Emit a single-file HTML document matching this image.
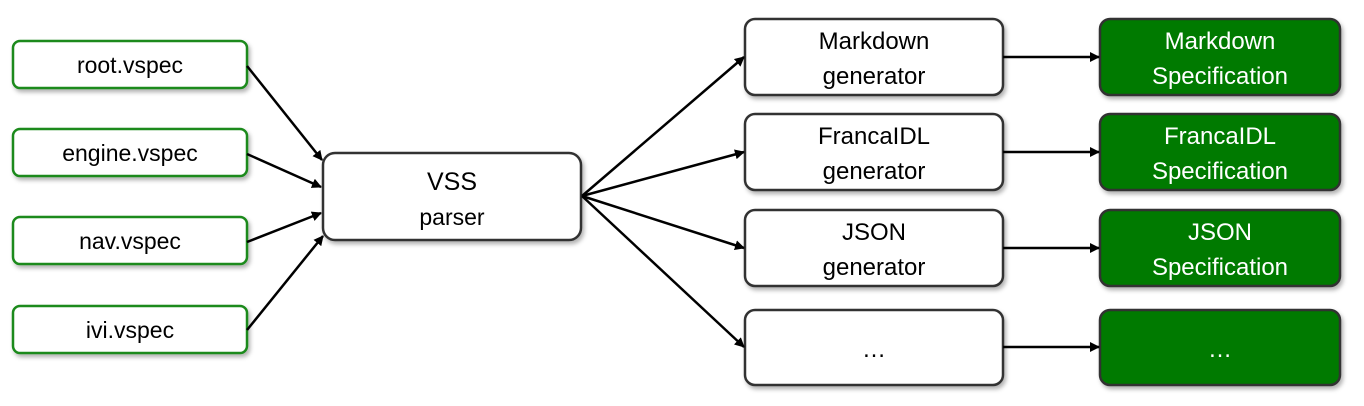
<!DOCTYPE html>
<html><head><meta charset="utf-8"><style>
body{margin:0;background:#fff;}
svg{display:block;font-family:"Liberation Sans",Arial,sans-serif;}
</style></head><body>
<svg width="1364" height="406" viewBox="0 0 1364 406" xmlns="http://www.w3.org/2000/svg">
<defs>
<marker id="a" markerWidth="10" markerHeight="10" refX="9" refY="5" orient="auto" markerUnits="userSpaceOnUse">
<path d="M0,0 L10,5 L0,10 z" fill="#000"/></marker>
<filter id="s" x="-10%" y="-10%" width="130%" height="140%"><feDropShadow dx="2" dy="3" stdDeviation="2" flood-color="#000" flood-opacity="0.3"/></filter>
</defs>
<g stroke-width="2.5" fill="#fff" filter="url(#s)">
<rect x="13" y="41" width="234" height="47" rx="7" stroke="#1a8a1a"/>
<rect x="13" y="129" width="234" height="47" rx="7" stroke="#1a8a1a"/>
<rect x="13" y="217" width="234" height="47" rx="7" stroke="#1a8a1a"/>
<rect x="13" y="306" width="234" height="47" rx="7" stroke="#1a8a1a"/>
<rect x="323" y="153" width="258" height="87" rx="12" stroke="#333"/>
<rect x="745" y="19" width="258" height="76" rx="10" stroke="#333"/>
<rect x="745" y="114" width="258" height="76" rx="10" stroke="#333"/>
<rect x="745" y="210" width="258" height="76" rx="10" stroke="#333"/>
<rect x="745" y="310" width="258" height="75" rx="10" stroke="#333"/>
<rect x="1100" y="19" width="240" height="76" rx="10" stroke="#333" fill="#007a00"/>
<rect x="1100" y="114" width="240" height="76" rx="10" stroke="#333" fill="#007a00"/>
<rect x="1100" y="210" width="240" height="76" rx="10" stroke="#333" fill="#007a00"/>
<rect x="1100" y="310" width="240" height="75" rx="10" stroke="#333" fill="#007a00"/>
</g>
<g stroke="#000" stroke-width="2.5" marker-end="url(#a)">
<line x1="247" y1="66" x2="322" y2="160"/>
<line x1="247" y1="154" x2="321" y2="187"/>
<line x1="247" y1="242" x2="321" y2="213"/>
<line x1="247" y1="330" x2="323" y2="236"/>
<line x1="582" y1="196" x2="744" y2="57"/>
<line x1="582" y1="196" x2="744" y2="152"/>
<line x1="582" y1="196" x2="744" y2="248"/>
<line x1="582" y1="196" x2="744" y2="347"/>
<line x1="1003" y1="57" x2="1099" y2="57"/>
<line x1="1003" y1="152" x2="1099" y2="152"/>
<line x1="1003" y1="248" x2="1099" y2="248"/>
<line x1="1003" y1="347" x2="1099" y2="347"/>
</g>
<g font-size="23" text-anchor="middle" fill="#000">
<text x="130" y="73">root.vspec</text>
<text x="130" y="161">engine.vspec</text>
<text x="130" y="249">nav.vspec</text>
<text x="130" y="338">ivi.vspec</text>
<text x="452" y="190" font-size="25">VSS</text>
<text x="452" y="225" font-size="23">parser</text>
<text x="874" y="49" font-size="24">Markdown</text>
<text x="874" y="84" font-size="24">generator</text>
<text x="874" y="144" font-size="24">FrancaIDL</text>
<text x="874" y="179" font-size="24">generator</text>
<text x="874" y="240" font-size="24">JSON</text>
<text x="874" y="275" font-size="24">generator</text>
<text x="874" y="357" font-size="24">…</text>
</g>
<g font-size="24" text-anchor="middle" fill="#fff">
<text x="1220" y="49">Markdown</text>
<text x="1220" y="84">Specification</text>
<text x="1220" y="144">FrancaIDL</text>
<text x="1220" y="179">Specification</text>
<text x="1220" y="240">JSON</text>
<text x="1220" y="275">Specification</text>
<text x="1220" y="357">…</text>
</g>
</svg>
</body></html>
